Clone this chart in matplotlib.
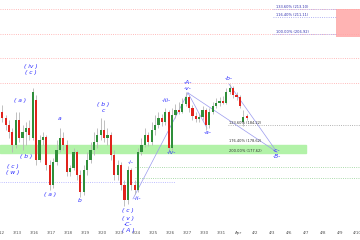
import numpy as np
import matplotlib.pyplot as plt

# trading days shown on the x axis (one tick per day)
dates = ['3/12', '3/13', '3/16', '3/17', '3/18', '3/19', '3/20', '3/23', '3/24', '3/25', '3/26',
         '3/27', '3/30', '3/31', 'Apr', '4/2', '4/3', '4/6', '4/7', '4/8', '4/9', '4/10']

# intraday candles, 5 per day
opens = [187.4, 185.9, 184.2, 182.4, 179.2, 185.4, 180.9, 182.4, 183.4, 180.9,
         190.4, 175.4, 180.4, 181.2, 174.2, 169.2, 174.9, 177.9, 180.9, 179.2,
         172.4, 173.4, 177.4, 171.7, 167.4, 172.9, 175.4, 177.9, 179.9, 181.7,
         182.9, 180.9, 181.7, 176.7, 171.7, 174.2, 169.2, 165.4, 172.9, 169.2,
         167.9, 177.4, 179.2, 181.7, 179.9, 182.9, 184.2, 185.9, 184.9, 187.4,
         178.4, 186.7, 187.9, 187.4, 189.4, 191.2, 188.4, 186.4, 185.7, 186.2,
         187.9, 184.2, 187.4, 188.9, 189.7, 190.2, 189.7, 192.4, 193.4, 191.7,
         191.2, 184.9, 186.4]
highs = [189.2, 186.7, 185.4, 183.4, 187.4, 187.4, 184.2, 184.9, 185.4, 193.4,
         191.7, 181.7, 182.4, 181.7, 175.4, 175.9, 180.4, 183.4, 182.4, 180.4,
         174.2, 178.4, 177.9, 172.9, 174.2, 177.4, 179.9, 182.4, 183.4, 185.9,
         185.4, 183.4, 182.4, 177.9, 175.4, 174.9, 170.4, 173.9, 173.4, 170.4,
         178.4, 180.9, 183.4, 182.4, 184.9, 186.7, 187.4, 186.9, 188.4, 187.9,
         188.4, 189.4, 189.9, 190.9, 192.4, 191.7, 189.2, 187.4, 186.9, 188.9,
         188.4, 188.4, 189.9, 190.9, 191.2, 191.4, 193.4, 194.4, 193.9, 192.4,
         191.7, 187.9, 186.9]
lows = [184.9, 182.9, 180.9, 177.4, 178.4, 179.9, 177.9, 179.2, 180.4, 180.4,
        174.2, 174.9, 179.2, 172.9, 167.9, 168.4, 174.2, 177.4, 177.9, 171.4,
        171.4, 172.9, 170.4, 166.2, 166.7, 171.7, 174.7, 176.7, 178.4, 180.4,
        179.9, 179.2, 175.4, 170.4, 170.4, 167.9, 163.9, 164.4, 167.9, 166.9,
        167.4, 176.7, 178.7, 178.9, 179.2, 181.7, 183.4, 183.9, 184.2, 177.4,
        177.9, 185.9, 186.9, 187.2, 188.9, 187.4, 185.4, 184.9, 184.9, 185.4,
        182.9, 183.4, 186.9, 188.4, 188.9, 189.4, 189.4, 191.9, 190.9, 190.4,
        188.4, 183.9, 185.4]
closes = [185.9, 184.2, 182.4, 179.2, 185.4, 180.9, 182.4, 183.4, 181.7, 192.4,
          175.4, 180.4, 181.2, 174.2, 169.2, 174.9, 177.9, 180.9, 179.2, 172.4,
          173.4, 177.4, 171.7, 167.4, 172.9, 175.4, 177.9, 179.9, 181.7, 182.9,
          180.9, 181.7, 176.7, 171.7, 174.2, 169.2, 165.4, 172.9, 169.2, 167.9,
          177.4, 179.2, 181.7, 179.9, 182.9, 184.2, 185.9, 184.9, 187.4, 178.4,
          186.7, 187.9, 187.4, 189.4, 191.2, 188.4, 186.4, 185.7, 186.2, 187.9,
          184.2, 187.4, 188.9, 189.7, 190.2, 189.7, 192.4, 193.4, 191.7, 191.2,
          188.9, 186.2, 185.9]

# fibonacci levels
fib_up = [(213.10, '133.60% (213.10)'), (211.11, '116.40% (211.11)'), (206.92, '100.00% (206.92)')]
fib_down = [(184.22, '123.60% (184.22)', 184.7), (178.62, '176.40% (178.62)', 180.2),
            (177.62, '200.00% (177.62)', 177.7)]
pink_levels = [213.10, 206.92, 200.9, 194.7]

# elliott wave labels: (text, day, price)
waves = [('( iv )', 1.80, 198.9), ('( c )', 1.80, 197.4), ('( a )', 1.15, 190.4),
         ('a', 3.45, 185.9), ('( b )', 6.04, 189.4), ('c', 6.04, 187.7),
         ('( b )', 1.50, 176.2), ('( c )', 0.74, 173.7), ('( w )', 0.74, 172.2),
         ('( a )', 2.92, 166.7), ('b', 4.68, 165.2),
         ('( c )', 7.51, 162.9), ('( v )', 7.51, 160.9), ('-C-', 7.51, 159.4), ('( A )', 7.51, 157.9),
         ('-i-', 7.69, 174.9), ('-ii-', 8.04, 165.7), ('-iii-', 9.75, 190.2), ('-iv-', 10.04, 177.4),
         ('-A-', 11.04, 194.9), ('-v-', 11.04, 193.2), ('-a-', 12.22, 182.2),
         ('-b-', 13.46, 195.9), ('-c-', 16.28, 177.7), ('-B-', 16.28, 176.2)]

# wave connector lines
links = [((7.8, 165.7), (11.04, 192.2)), ((11.04, 192.2), (12.16, 183.4)),
         ((11.04, 192.2), (16.28, 177.4)), ((13.46, 194.4), (16.28, 177.4))]

fig = plt.figure(figsize=(3.6, 2.4), dpi=100)
ax = fig.add_axes([0, 0.05, 1, 0.95])

# zones
ax.axhspan(177.15, 179.2, xmin=0, xmax=0.85, color='#b2f2a8', zorder=0)
ax.fill_between([19.76, 21.3], 206.2, 213.1, color='#ffb3b3', zorder=0, lw=0)

for p in pink_levels:
    ax.axhline(p, color='#ffa5a5', lw=0.6, ls=':', zorder=1)
for p, txt in fib_up:
    ax.plot([16.05, 19.76], [p, p], color='#9a9aee', lw=0.6, ls=':', zorder=1)
    ax.text(16.22, p, txt, fontsize=2.6, color='#3030b0', va='bottom', ha='left')
ax.plot([13.4, 21.3], [184.22, 184.22], color='#999999', lw=0.6, ls=':', zorder=1)
for p, txt, ty in fib_down:
    ax.text(13.46, ty, txt, fontsize=2.6, color='#333333', va='center', ha='left', zorder=4)
for p in [173.6, 170.9]:
    ax.plot([7.9, 21.3], [p, p], color='#8fcf8f', lw=0.6, ls=':', zorder=1)
ax.plot([-0.1, 10.3], [169.9, 169.9], color='#a8a8ff', lw=0.6, ls=':', zorder=1)

for a, b in links:
    ax.plot([a[0], b[0]], [a[1], b[1]], color='#9a9aee', lw=0.5, zorder=1)

# candles
x = 0.1 + 0.2 * np.arange(len(closes))
o = np.array(opens)
c = np.array(closes)
up = c >= o
ax.vlines(x, lows, highs, color='#b5b5b5', lw=0.6, zorder=2)
ax.bar(x[up], (c - o)[up], bottom=o[up], width=0.13, color='#2f8f3a', zorder=3)
ax.bar(x[~up], (o - c)[~up], bottom=c[~up], width=0.13, color='#e0231c', zorder=3)

for txt, d, p in waves:
    ax.text(d, p, txt, fontsize=4.3, color='#2b2bff', style='italic', ha='center', va='center',
            clip_on=False, zorder=5)

ax.set_xlim(-0.03, 21.17)
ax.set_ylim(158.42, 215.42)
ax.set_xticks(range(len(dates)))
ax.set_xticklabels(dates)
ax.tick_params(axis='x', length=0, labelsize=3, pad=2, colors='#555555')
ax.set_yticks([])
for s in ax.spines.values():
    s.set_visible(False)

fig.savefig('out.png', dpi=100)
